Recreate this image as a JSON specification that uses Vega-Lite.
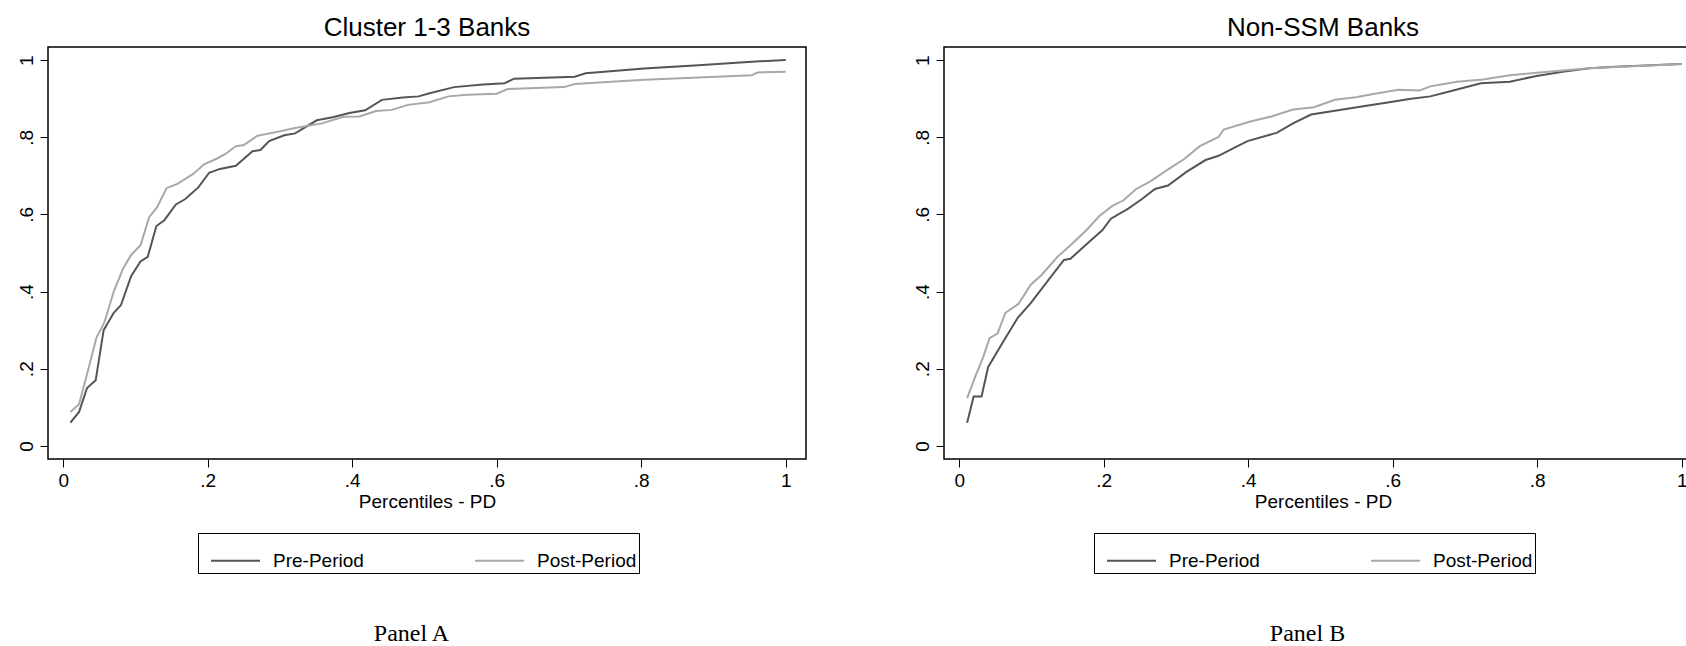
{
  "$schema": "https://vega.github.io/schema/vega-lite/v6.json",
  "background": "white",
  "padding": {"left": 16, "top": 14, "right": 0, "bottom": 0},
  "datasets": {
    "a": [
      {"x":0.01,"y":0.06,"period":"Pre-Period"},{"x":0.022,"y":0.088,"period":"Pre-Period"},{"x":0.033,"y":0.15,"period":"Pre-Period"},{"x":0.045,"y":0.17,"period":"Pre-Period"},{"x":0.056,"y":0.3,"period":"Pre-Period"},{"x":0.07,"y":0.345,"period":"Pre-Period"},{"x":0.08,"y":0.365,"period":"Pre-Period"},{"x":0.094,"y":0.44,"period":"Pre-Period"},{"x":0.107,"y":0.478,"period":"Pre-Period"},{"x":0.117,"y":0.49,"period":"Pre-Period"},{"x":0.129,"y":0.57,"period":"Pre-Period"},{"x":0.14,"y":0.585,"period":"Pre-Period"},{"x":0.156,"y":0.626,"period":"Pre-Period"},{"x":0.169,"y":0.64,"period":"Pre-Period"},{"x":0.187,"y":0.67,"period":"Pre-Period"},{"x":0.202,"y":0.708,"period":"Pre-Period"},{"x":0.217,"y":0.718,"period":"Pre-Period"},{"x":0.239,"y":0.726,"period":"Pre-Period"},{"x":0.262,"y":0.764,"period":"Pre-Period"},{"x":0.273,"y":0.767,"period":"Pre-Period"},{"x":0.285,"y":0.79,"period":"Pre-Period"},{"x":0.306,"y":0.805,"period":"Pre-Period"},{"x":0.321,"y":0.81,"period":"Pre-Period"},{"x":0.351,"y":0.844,"period":"Pre-Period"},{"x":0.373,"y":0.852,"period":"Pre-Period"},{"x":0.396,"y":0.863,"period":"Pre-Period"},{"x":0.418,"y":0.87,"period":"Pre-Period"},{"x":0.441,"y":0.897,"period":"Pre-Period"},{"x":0.47,"y":0.903,"period":"Pre-Period"},{"x":0.492,"y":0.906,"period":"Pre-Period"},{"x":0.507,"y":0.914,"period":"Pre-Period"},{"x":0.541,"y":0.93,"period":"Pre-Period"},{"x":0.581,"y":0.937,"period":"Pre-Period"},{"x":0.611,"y":0.94,"period":"Pre-Period"},{"x":0.624,"y":0.952,"period":"Pre-Period"},{"x":0.708,"y":0.957,"period":"Pre-Period"},{"x":0.723,"y":0.966,"period":"Pre-Period"},{"x":0.804,"y":0.978,"period":"Pre-Period"},{"x":0.879,"y":0.987,"period":"Pre-Period"},{"x":0.916,"y":0.991,"period":"Pre-Period"},{"x":0.953,"y":0.996,"period":"Pre-Period"},{"x":1.0,"y":1.0,"period":"Pre-Period"},
      {"x":0.01,"y":0.088,"period":"Post-Period"},{"x":0.022,"y":0.108,"period":"Post-Period"},{"x":0.035,"y":0.2,"period":"Post-Period"},{"x":0.046,"y":0.28,"period":"Post-Period"},{"x":0.057,"y":0.32,"period":"Post-Period"},{"x":0.07,"y":0.4,"period":"Post-Period"},{"x":0.083,"y":0.46,"period":"Post-Period"},{"x":0.094,"y":0.495,"period":"Post-Period"},{"x":0.107,"y":0.52,"period":"Post-Period"},{"x":0.119,"y":0.593,"period":"Post-Period"},{"x":0.13,"y":0.619,"period":"Post-Period"},{"x":0.143,"y":0.668,"period":"Post-Period"},{"x":0.158,"y":0.679,"period":"Post-Period"},{"x":0.18,"y":0.705,"period":"Post-Period"},{"x":0.195,"y":0.73,"period":"Post-Period"},{"x":0.213,"y":0.745,"period":"Post-Period"},{"x":0.224,"y":0.756,"period":"Post-Period"},{"x":0.239,"y":0.777,"period":"Post-Period"},{"x":0.25,"y":0.78,"period":"Post-Period"},{"x":0.269,"y":0.804,"period":"Post-Period"},{"x":0.291,"y":0.812,"period":"Post-Period"},{"x":0.321,"y":0.824,"period":"Post-Period"},{"x":0.358,"y":0.836,"period":"Post-Period"},{"x":0.388,"y":0.853,"period":"Post-Period"},{"x":0.41,"y":0.854,"period":"Post-Period"},{"x":0.433,"y":0.868,"period":"Post-Period"},{"x":0.455,"y":0.871,"period":"Post-Period"},{"x":0.477,"y":0.884,"period":"Post-Period"},{"x":0.507,"y":0.891,"period":"Post-Period"},{"x":0.533,"y":0.906,"period":"Post-Period"},{"x":0.559,"y":0.91,"period":"Post-Period"},{"x":0.6,"y":0.913,"period":"Post-Period"},{"x":0.615,"y":0.925,"period":"Post-Period"},{"x":0.693,"y":0.93,"period":"Post-Period"},{"x":0.708,"y":0.938,"period":"Post-Period"},{"x":0.804,"y":0.949,"period":"Post-Period"},{"x":0.879,"y":0.955,"period":"Post-Period"},{"x":0.953,"y":0.961,"period":"Post-Period"},{"x":0.961,"y":0.968,"period":"Post-Period"},{"x":1.0,"y":0.97,"period":"Post-Period"}
    ],
    "b": [
      {"x":0.011,"y":0.06,"period":"Pre-Period"},{"x":0.02,"y":0.128,"period":"Pre-Period"},{"x":0.031,"y":0.128,"period":"Pre-Period"},{"x":0.04,"y":0.204,"period":"Pre-Period"},{"x":0.059,"y":0.264,"period":"Pre-Period"},{"x":0.081,"y":0.332,"period":"Pre-Period"},{"x":0.099,"y":0.37,"period":"Pre-Period"},{"x":0.117,"y":0.414,"period":"Pre-Period"},{"x":0.145,"y":0.482,"period":"Pre-Period"},{"x":0.154,"y":0.485,"period":"Pre-Period"},{"x":0.18,"y":0.529,"period":"Pre-Period"},{"x":0.198,"y":0.559,"period":"Pre-Period"},{"x":0.21,"y":0.589,"period":"Pre-Period"},{"x":0.234,"y":0.615,"period":"Pre-Period"},{"x":0.253,"y":0.64,"period":"Pre-Period"},{"x":0.271,"y":0.666,"period":"Pre-Period"},{"x":0.289,"y":0.675,"period":"Pre-Period"},{"x":0.315,"y":0.711,"period":"Pre-Period"},{"x":0.341,"y":0.741,"period":"Pre-Period"},{"x":0.359,"y":0.752,"period":"Pre-Period"},{"x":0.377,"y":0.769,"period":"Pre-Period"},{"x":0.399,"y":0.79,"period":"Pre-Period"},{"x":0.44,"y":0.812,"period":"Pre-Period"},{"x":0.462,"y":0.836,"period":"Pre-Period"},{"x":0.487,"y":0.859,"period":"Pre-Period"},{"x":0.52,"y":0.869,"period":"Pre-Period"},{"x":0.557,"y":0.88,"period":"Pre-Period"},{"x":0.593,"y":0.89,"period":"Pre-Period"},{"x":0.623,"y":0.899,"period":"Pre-Period"},{"x":0.652,"y":0.906,"period":"Pre-Period"},{"x":0.681,"y":0.92,"period":"Pre-Period"},{"x":0.722,"y":0.94,"period":"Pre-Period"},{"x":0.762,"y":0.944,"period":"Pre-Period"},{"x":0.799,"y":0.959,"period":"Pre-Period"},{"x":0.835,"y":0.97,"period":"Pre-Period"},{"x":0.872,"y":0.979,"period":"Pre-Period"},{"x":0.908,"y":0.983,"period":"Pre-Period"},{"x":1.0,"y":0.99,"period":"Pre-Period"},
      {"x":0.011,"y":0.124,"period":"Post-Period"},{"x":0.022,"y":0.178,"period":"Post-Period"},{"x":0.033,"y":0.229,"period":"Post-Period"},{"x":0.042,"y":0.279,"period":"Post-Period"},{"x":0.053,"y":0.291,"period":"Post-Period"},{"x":0.064,"y":0.345,"period":"Post-Period"},{"x":0.082,"y":0.368,"period":"Post-Period"},{"x":0.099,"y":0.418,"period":"Post-Period"},{"x":0.114,"y":0.443,"period":"Post-Period"},{"x":0.136,"y":0.49,"period":"Post-Period"},{"x":0.154,"y":0.52,"period":"Post-Period"},{"x":0.176,"y":0.559,"period":"Post-Period"},{"x":0.194,"y":0.596,"period":"Post-Period"},{"x":0.212,"y":0.622,"period":"Post-Period"},{"x":0.227,"y":0.636,"period":"Post-Period"},{"x":0.245,"y":0.666,"period":"Post-Period"},{"x":0.264,"y":0.685,"period":"Post-Period"},{"x":0.286,"y":0.713,"period":"Post-Period"},{"x":0.311,"y":0.743,"period":"Post-Period"},{"x":0.333,"y":0.777,"period":"Post-Period"},{"x":0.359,"y":0.801,"period":"Post-Period"},{"x":0.366,"y":0.82,"period":"Post-Period"},{"x":0.403,"y":0.841,"period":"Post-Period"},{"x":0.432,"y":0.854,"period":"Post-Period"},{"x":0.462,"y":0.872,"period":"Post-Period"},{"x":0.491,"y":0.878,"period":"Post-Period"},{"x":0.52,"y":0.897,"period":"Post-Period"},{"x":0.549,"y":0.904,"period":"Post-Period"},{"x":0.579,"y":0.914,"period":"Post-Period"},{"x":0.608,"y":0.923,"period":"Post-Period"},{"x":0.637,"y":0.921,"period":"Post-Period"},{"x":0.652,"y":0.932,"period":"Post-Period"},{"x":0.689,"y":0.944,"period":"Post-Period"},{"x":0.725,"y":0.95,"period":"Post-Period"},{"x":0.762,"y":0.961,"period":"Post-Period"},{"x":0.799,"y":0.967,"period":"Post-Period"},{"x":0.872,"y":0.979,"period":"Post-Period"},{"x":1.0,"y":0.99,"period":"Post-Period"}
    ]
  },
  "spacing": 105,
  "hconcat": [
    {
      "title": {"text": "Panel A", "orient": "bottom", "anchor": "middle", "font": "Liberation Serif", "fontSize": 24, "fontWeight": "normal", "color": "black", "offset": 48},
      "vconcat": [
        {
          "title": {"text": "Cluster 1-3 Banks", "fontSize": 26, "offset": 6},
          "width": 758, "height": 412,
          "data": {"name": "a"},
          "mark": {"type": "line", "strokeWidth": 2},
          "encoding": {
            "x": {"field": "x", "type": "quantitative", "title": "Percentiles - PD", "scale": {"domain": [-0.021, 1.028], "nice": false, "zero": false}, "axis": {"values": [0, 0.2, 0.4, 0.6, 0.8, 1], "labelExpr": "datum.value == 0 ? '0' : datum.value == 1 ? '1' : replace(format(datum.value, '.1f'), '0.', '.')"}},
            "y": {"field": "y", "type": "quantitative", "title": null, "scale": {"domain": [-0.034, 1.034], "nice": false, "zero": false}, "axis": {"values": [0, 0.2, 0.4, 0.6, 0.8, 1], "labelAngle": -90, "labelAlign": "center", "labelBaseline": "bottom", "labelExpr": "datum.value == 0 ? '0' : datum.value == 1 ? '1' : replace(format(datum.value, '.1f'), '0.', '.')"}},
            "color": {"field": "period", "type": "nominal", "title": null, "scale": {"domain": ["Pre-Period", "Post-Period"], "range": ["#555555", "#a8a8a8"]}, "legend": {"orient": "none", "legendX": 150, "legendY": 486}}
          }
        }
      ]
    },
    {
      "title": {"text": "Panel B", "orient": "bottom", "anchor": "middle", "font": "Liberation Serif", "fontSize": 24, "fontWeight": "normal", "color": "black", "offset": 48},
      "vconcat": [
        {
          "title": {"text": "Non-SSM Banks", "fontSize": 26, "offset": 6},
          "width": 758, "height": 412,
          "data": {"name": "b"},
          "mark": {"type": "line", "strokeWidth": 2},
          "encoding": {
            "x": {"field": "x", "type": "quantitative", "title": "Percentiles - PD", "scale": {"domain": [-0.021, 1.028], "nice": false, "zero": false}, "axis": {"values": [0, 0.2, 0.4, 0.6, 0.8, 1], "labelExpr": "datum.value == 0 ? '0' : datum.value == 1 ? '1' : replace(format(datum.value, '.1f'), '0.', '.')"}},
            "y": {"field": "y", "type": "quantitative", "title": null, "scale": {"domain": [-0.034, 1.034], "nice": false, "zero": false}, "axis": {"values": [0, 0.2, 0.4, 0.6, 0.8, 1], "labelAngle": -90, "labelAlign": "center", "labelBaseline": "bottom", "labelExpr": "datum.value == 0 ? '0' : datum.value == 1 ? '1' : replace(format(datum.value, '.1f'), '0.', '.')"}},
            "color": {"field": "period", "type": "nominal", "title": null, "scale": {"domain": ["Pre-Period", "Post-Period"], "range": ["#555555", "#a8a8a8"]}, "legend": {"orient": "none", "legendX": 150, "legendY": 486}}
          }
        }
      ]
    }
  ],
  "resolve": {"scale": {"color": "independent"}, "legend": {"color": "independent"}},
  "config": {
    "font": "Liberation Sans",
    "view": {"stroke": "black", "strokeWidth": 1.5},
    "title": {"font": "Liberation Sans", "fontWeight": "normal", "color": "black"},
    "axis": {"grid": false, "domain": false, "tickColor": "black", "tickSize": 8, "labelFont": "Liberation Sans", "labelFontSize": 19, "labelColor": "black", "titleFont": "Liberation Sans", "titleFontSize": 19, "titleFontWeight": "normal", "titleColor": "black", "titlePadding": 2, "labelPadding": 4},
    "legend": {"direction": "horizontal", "symbolType": "stroke", "symbolSize": 2400, "symbolStrokeWidth": 1.8, "symbolOffset": 10, "labelFont": "Liberation Sans", "labelFontSize": 19, "labelColor": "black", "strokeColor": "black", "padding": 2, "columnPadding": 100, "labelOffset": 12}
  }
}
